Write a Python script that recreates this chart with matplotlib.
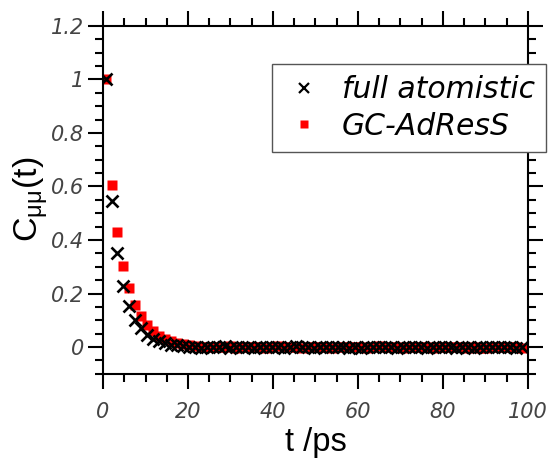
import matplotlib
matplotlib.use("Agg")
import matplotlib.pyplot as plt
from matplotlib.lines import Line2D
from matplotlib.ticker import MultipleLocator, FuncFormatter

# ---------- data ----------
t_ps = [0.6, 2.0, 3.4, 4.8, 6.2, 7.6, 9.0, 10.4, 11.8, 13.2, 14.6, 16.0, 17.4, 18.8,
        20.2, 21.6, 23.0, 24.4, 25.8, 27.2, 28.6, 30.0, 31.4, 32.8, 34.2, 35.6, 37.0,
        38.4, 39.8, 41.2, 42.6, 44.0, 45.4, 46.8, 48.2, 49.6, 51.0, 52.4, 53.8, 55.2,
        56.6, 58.0, 59.4, 60.8, 62.2, 63.6, 65.0, 66.4, 67.8, 69.2, 70.6, 72.0, 73.4,
        74.8, 76.2, 77.6, 79.0, 80.4, 81.8, 83.2, 84.6, 86.0, 87.4, 88.8, 90.2, 91.6,
        93.0, 94.4, 95.8, 97.2, 98.6]

c_atomistic = [1.0, 0.545, 0.35, 0.228, 0.152, 0.103, 0.07, 0.047, 0.031, 0.021,
               0.014, 0.009, 0.006, 0.004, 0.002, 0.001, -0.002, 0.002, 0.0, -0.001,
               0.003, -0.002, 0.001, 0.0, 0.002, -0.003, 0.001, -0.001, 0.002, 0.0,
               -0.002, 0.001, 0.003, -0.001, 0.0, -0.002, 0.002, 0.001, -0.001, 0.0,
               0.002, -0.002, 0.001, -0.003, 0.0, 0.001, -0.001, 0.002, 0.0, -0.002,
               0.001, -0.001, 0.002, 0.0, -0.002, 0.001, 0.0, -0.001, 0.002, -0.002,
               0.0, 0.001, -0.003, -0.001, 0.001, 0.0, 0.002, -0.001, 0.001, -0.002,
               0.0]

c_adress = [1.0, 0.606, 0.431, 0.304, 0.219, 0.157, 0.115, 0.083, 0.06, 0.043,
            0.031, 0.022, 0.015, 0.01, 0.007, 0.004, 0.002, 0.001, -0.001, 0.002,
            0.0, 0.003, -0.002, 0.001, -0.001, 0.002, 0.0, -0.002, 0.001, 0.003,
            -0.001, 0.0, 0.002, -0.002, 0.001, 0.0, -0.001, 0.002, -0.003, 0.001,
            0.0, 0.002, -0.001, 0.001, -0.002, 0.0, 0.003, -0.001, 0.001, 0.0,
            -0.002, 0.002, 0.0, -0.001, 0.001, -0.003, 0.0, 0.002, -0.001, 0.001,
            0.0, -0.002, 0.001, -0.004, -0.002, 0.0, 0.001, -0.001, 0.002, 0.0,
            -0.002]

legend_labels = ["full atomistic", "GC-AdResS"]

# ---------- style ----------
TICK_GRAY = "#444444"
LABEL_FONT = "Liberation Sans"
TICK_FONT = "DejaVu Sans"
LEGEND_FONT = "DejaVu Sans"

fig = plt.figure(figsize=(5.51, 4.61), dpi=100)
ax = fig.add_axes([0.187, 0.189, 0.771, 0.755])

ax.plot(t_ps, c_adress, ls="none", marker="s", ms=7.2, color="#ff0000",
        mec="none", zorder=2)
ax.plot(t_ps, c_atomistic, ls="none", marker="x", ms=8.6, mew=1.9,
        color="black", zorder=3)

ax.set_xlim(0, 100)
ax.set_ylim(-0.1, 1.2)
ax.xaxis.set_major_locator(MultipleLocator(20))
ax.xaxis.set_minor_locator(MultipleLocator(5))
ax.yaxis.set_major_locator(MultipleLocator(0.2))
ax.yaxis.set_minor_locator(MultipleLocator(0.05))
fmt = FuncFormatter(lambda v, p: "%g" % round(v, 2))
ax.xaxis.set_major_formatter(fmt)
ax.yaxis.set_major_formatter(fmt)

for s in ax.spines.values():
    s.set_linewidth(1.5)
ax.tick_params(which="both", direction="out", top=True, right=True,
               width=1.5, color="black")
ax.tick_params(which="major", length=10.5)
ax.tick_params(which="minor", length=5.5)
ax.tick_params(axis="x", which="major", pad=10)
ax.tick_params(axis="y", which="major", pad=3)

for lab in ax.get_xticklabels() + ax.get_yticklabels():
    lab.set_fontfamily(TICK_FONT)
    lab.set_fontstyle("italic")
    lab.set_fontsize(15)
    lab.set_color(TICK_GRAY)

ax.set_xlabel("t /ps", fontfamily=LABEL_FONT, fontsize=23.5, labelpad=3)
ax.set_ylabel(r"C$_{\mathregular{\mu\mu}}$(t)", fontfamily=LABEL_FONT,
              fontsize=24.5, labelpad=0)

handles = [
    Line2D([], [], ls="none", marker="x", ms=6.5, mew=1.6, color="black"),
    Line2D([], [], ls="none", marker="s", ms=6, color="#ff0000", mec="none"),
]
leg = ax.legend(handles, legend_labels, loc="upper right",
                bbox_to_anchor=(0.991, 0.861), bbox_transform=fig.transFigure,
                borderaxespad=0, fancybox=False, framealpha=1,
                edgecolor="#555555", handlelength=1.4, handletextpad=0.58,
                borderpad=0.37, labelspacing=0.25,
                prop={"family": LEGEND_FONT, "style": "italic", "size": 21.5})
leg.get_frame().set_linewidth(1.0)
leg.set_zorder(5)

fig.savefig("out.png", dpi=100)
